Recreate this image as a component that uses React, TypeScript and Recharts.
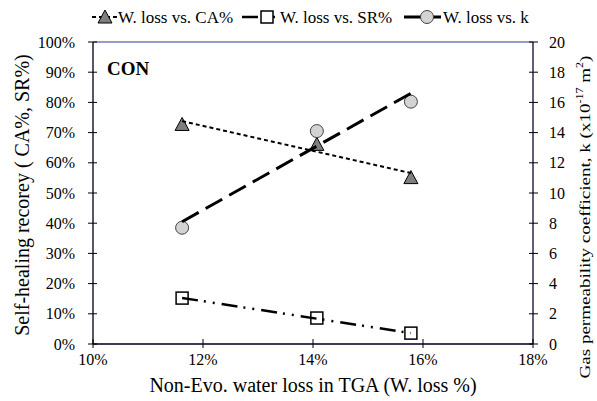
import React from 'react';
import { ComposedChart, Scatter, XAxis, YAxis, ReferenceLine, Customized, Label } from 'recharts';

const FONT = '"Liberation Serif", "Times New Roman", Times, serif';

const wLoss = [11.62, 14.07, 15.78];
const caRecovery = [72.7, 66.1, 55.1];
const srRecovery = [15.2, 8.6, 3.6];
const kCoeff = [7.7, 14.1, 16.05];

// Trend lines (end points)
const trendX = [11.62, 15.78];
const caTrend = [73.8, 56.6];
const srTrend = [15.25, 3.6];
const kTrend = [8.1, 16.6];

const xTicks = [10, 12, 14, 16, 18];
const leftTicks = [0, 10, 20, 30, 40, 50, 60, 70, 80, 90, 100];
const rightTicks = [0, 2, 4, 6, 8, 10, 12, 14, 16, 18, 20];

const legendLabels = ['W. loss vs. CA%', 'W. loss vs. SR%', 'W. loss vs. k'];

const toPts = (xs: number[], ys: number[]) => xs.map((x, i) => ({ x, y: ys[i] }));

const caPts = toPts(wLoss, caRecovery);
const srPts = toPts(wLoss, srRecovery);
const kPts = toPts(wLoss, kCoeff);
const caTrendPts = toPts(trendX, caTrend);
const srTrendPts = toPts(trendX, srTrend);
const kTrendPts = toPts(trendX, kTrend);

const CA_DASH = '4 3';
const SR_DASH = '16 6 2 7 2 7';
const K_DASH = '19 8';

const txt = { fontFamily: FONT };

const Triangle = (p: any) => (
  <polygon
    points={`${p.cx},${p.cy - 7} ${p.cx - 7},${p.cy + 6} ${p.cx + 7},${p.cy + 6}`}
    fill="#7f7f7f"
    stroke="#000"
    strokeWidth={1}
  />
);
const Square = (p: any) => (
  <rect x={p.cx - 6} y={p.cy - 6} width={12} height={12} fill="#fff" stroke="#000" strokeWidth={1.5} />
);
const Circle = (p: any) => (
  <circle cx={p.cx} cy={p.cy} r={6.5} fill="#d3d3d3" stroke="#404040" strokeWidth={1} />
);
const Nothing = () => <g />;

const XTick = (p: any) => (
  <g>
    <line x1={p.x} x2={p.x} y1={p.y - 5} y2={p.y + 4} stroke="#000" strokeWidth={1} />
    <text x={p.x} y={p.y + 21} textAnchor="middle" fontSize={16} style={txt} fill="#000">
      {p.payload.value}%
    </text>
  </g>
);
const LeftTick = (p: any) => (
  <g>
    <line x1={p.x - 5} x2={p.x + 4} y1={p.y} y2={p.y} stroke="#000" strokeWidth={1} />
    <text x={p.x - 18} y={p.y} dy="0.35em" textAnchor="end" fontSize={16} style={txt} fill="#000">
      {p.payload.value}%
    </text>
  </g>
);
const RightTick = (p: any) => (
  <g>
    <line x1={p.x - 4} x2={p.x + 5} y1={p.y} y2={p.y} stroke="#000" strokeWidth={1} />
    <text x={p.x + 16} y={p.y} dy="0.35em" textAnchor="start" fontSize={16} style={txt} fill="#000">
      {p.payload.value}
    </text>
  </g>
);

const LeftTitle = (props: any) => {
  const vb = props.viewBox;
  const cx = vb.x + 22;
  const cy = vb.y + vb.height / 2 + 2;
  return (
    <text
      x={cx}
      y={cy}
      transform={`rotate(-90 ${cx} ${cy})`}
      textAnchor="middle"
      dominantBaseline="central"
      fontSize={20}
      style={txt}
      fill="#000"
    >
      Self-healing recorey ( CA%, SR%)
    </text>
  );
};

const RightTitle = (props: any) => {
  const vb = props.viewBox;
  const cx = vb.x + 52;
  const cy = vb.y + vb.height / 2 + 24;
  return (
    <g transform={`translate(${cx} ${cy}) rotate(-90) scale(1.27 1)`}>
      <text x={0} y={0} textAnchor="middle" dominantBaseline="central" fontSize={15} style={txt} fill="#000">
        Gas permeability coefficient, k (x10
        <tspan dy={-6} fontSize={9.5}>-17</tspan>
        <tspan dy={6}> m</tspan>
        <tspan dy={-6} fontSize={9.5}>2</tspan>
        <tspan dy={6}>)</tspan>
      </text>
    </g>
  );
};

const XTitle = (props: any) => {
  const vb = props.viewBox;
  return (
    <text x={vb.x + vb.width / 2} y={vb.y + 48} textAnchor="middle" fontSize={20} style={txt} fill="#000">
      Non-Evo. water loss in TGA (W. loss %)
    </text>
  );
};

const Overlay = () => {
  const y = 17;
  const items = [
    { x1: 92, x2: 117, mx: 105, dash: CA_DASH, w: 2, tx: 118, shape: Triangle },
    { x1: 242, x2: 278, mx: 267, dash: SR_DASH, w: 2.5, tx: 280, shape: Square },
    { x1: 404, x2: 441, mx: 427, dash: K_DASH, w: 3, tx: 443, shape: Circle },
  ];
  return (
    <g>
      {items.map((it, i) => {
        const S = it.shape;
        return (
          <g key={i}>
            <line x1={it.x1} x2={it.x2} y1={y} y2={y} stroke="#000" strokeWidth={it.w} strokeDasharray={it.dash} />
            <S cx={it.mx} cy={y} />
            <text x={it.tx} y={y} dy="0.35em" fontSize={17} style={txt} fill="#000">
              {legendLabels[i]}
            </text>
          </g>
        );
      })}
      <text x={107} y={75} fontSize={19} fontWeight="bold" style={txt} fill="#000">
        CON
      </text>
    </g>
  );
};

export default function App() {
  return (
    <div style={{ position: 'absolute', left: 0, top: 0, width: 597, height: 401, background: '#fff' }}>
      <ComposedChart width={597} height={401} margin={{ top: 42, right: 0, bottom: 0, left: 0 }}>
        <XAxis
          type="number"
          dataKey="x"
          domain={[10, 18]}
          ticks={xTicks}
          interval={0}
          height={57}
          axisLine={{ stroke: '#3b3b5c', strokeWidth: 2 }}
          tickLine={false}
          tickSize={0}
          tickMargin={0}
          tick={(p: any) => <XTick {...p} />}
          allowDataOverflow
        >
          <Label content={<XTitle />} />
        </XAxis>
        <YAxis
          yAxisId="left"
          type="number"
          domain={[0, 100]}
          ticks={leftTicks}
          interval={0}
          width={93}
          axisLine={{ stroke: '#1f1f30', strokeWidth: 1.5 }}
          tickLine={false}
          tickSize={0}
          tickMargin={0}
          tick={(p: any) => <LeftTick {...p} />}
        >
          <Label content={<LeftTitle />} />
        </YAxis>
        <YAxis
          yAxisId="right"
          orientation="right"
          type="number"
          domain={[0, 20]}
          ticks={rightTicks}
          interval={0}
          width={64}
          axisLine={{ stroke: '#2a2a48', strokeWidth: 1.5 }}
          tickLine={false}
          tickSize={0}
          tickMargin={0}
          tick={(p: any) => <RightTick {...p} />}
        >
          <Label content={<RightTitle />} />
        </YAxis>
        <ReferenceLine yAxisId="left" y={100} stroke="#7878b8" strokeWidth={1.5} />

        <Scatter yAxisId="left" data={caPts} dataKey="y" shape={Triangle} isAnimationActive={false} />
        <Scatter yAxisId="left" data={srPts} dataKey="y" shape={Square} isAnimationActive={false} />
        <Scatter yAxisId="right" data={kPts} dataKey="y" shape={Circle} isAnimationActive={false} />

        <Scatter
          yAxisId="left"
          data={caTrendPts}
          dataKey="y"
          shape={Nothing}
          line={{ stroke: '#000', strokeWidth: 2, strokeDasharray: CA_DASH }}
          isAnimationActive={false}
        />
        <Scatter
          yAxisId="left"
          data={srTrendPts}
          dataKey="y"
          shape={Nothing}
          line={{ stroke: '#000', strokeWidth: 2.5, strokeDasharray: SR_DASH }}
          isAnimationActive={false}
        />
        <Scatter
          yAxisId="right"
          data={kTrendPts}
          dataKey="y"
          shape={Nothing}
          line={{ stroke: '#000', strokeWidth: 3, strokeDasharray: K_DASH }}
          isAnimationActive={false}
        />
        <Customized component={Overlay} />
      </ComposedChart>
    </div>
  );
}
